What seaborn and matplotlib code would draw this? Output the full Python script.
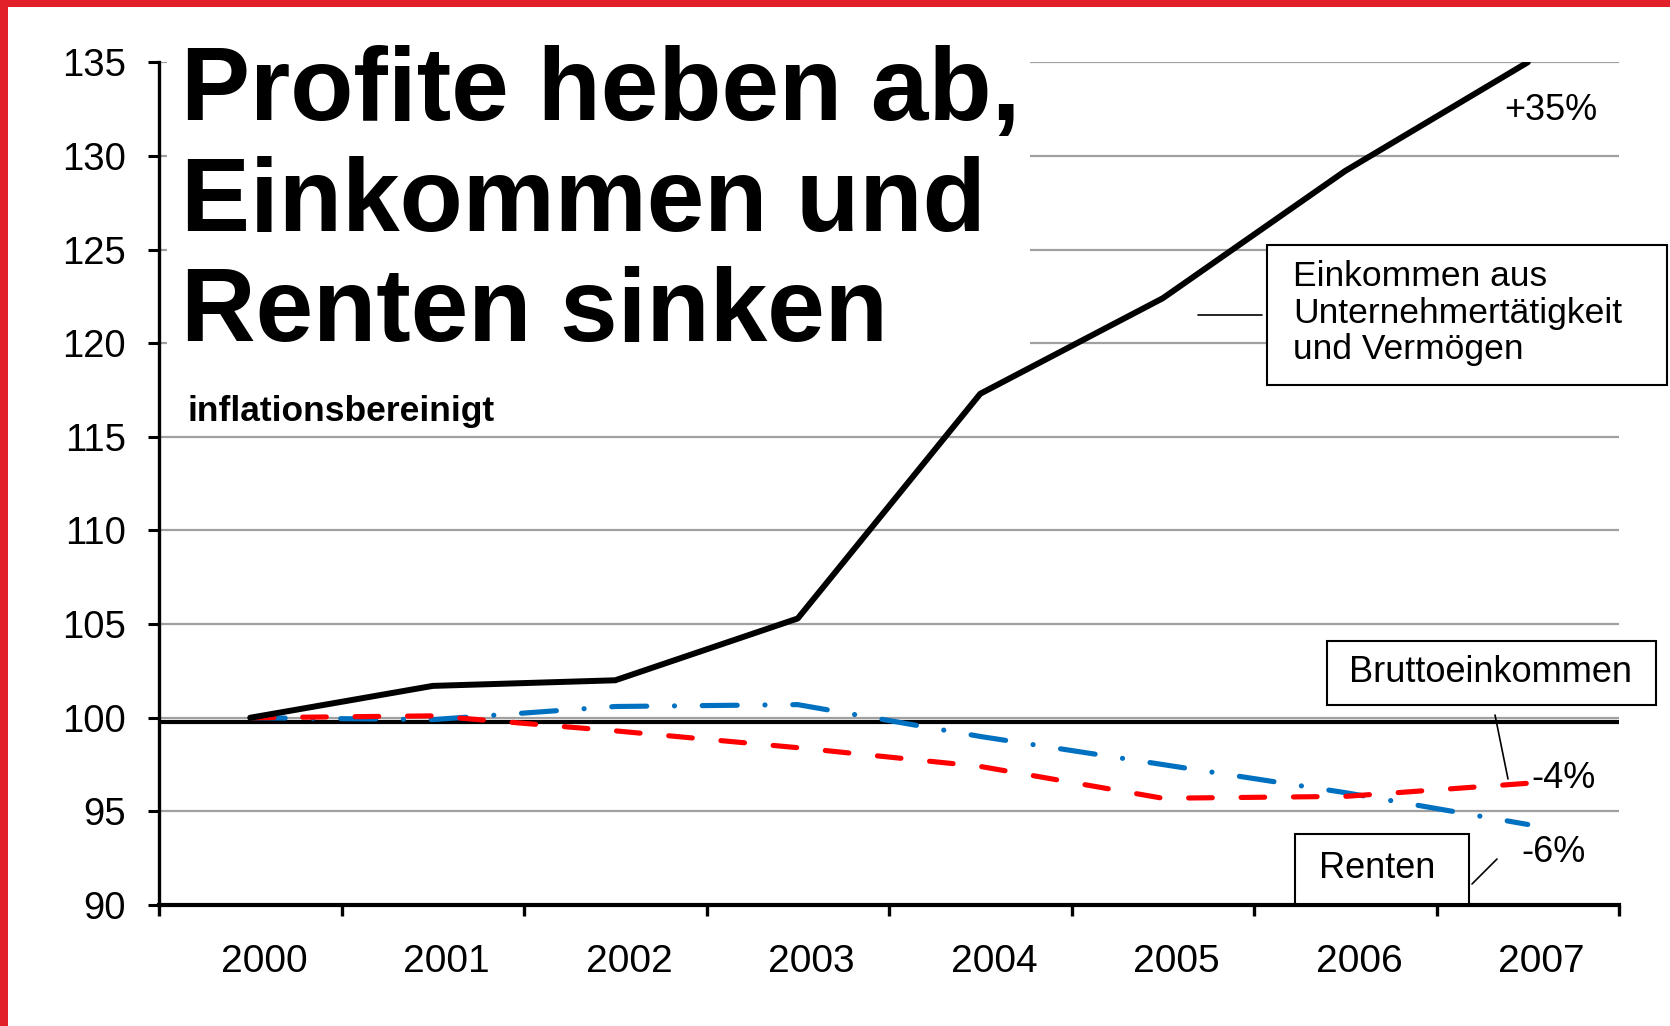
import numpy as np
import pandas as pd
import matplotlib
matplotlib.use("Agg")
import matplotlib.pyplot as plt
import seaborn as sns
from matplotlib.patches import Rectangle
from matplotlib.lines import Line2D
from matplotlib.transforms import ScaledTranslation

# ---- data ----
years = ["2000", "2001", "2002", "2003", "2004", "2005", "2006", "2007"]
profite = [100.0, 101.7, 102.0, 105.3, 117.3, 122.4, 129.2, 135.0]
brutto = [100.0, 100.1, 99.3, 98.4, 97.4, 95.7, 95.8, 96.5]
renten = [100.0, 99.9, 100.6, 100.7, 99.0, 97.5, 96.0, 94.3]
y_ticks = [90, 95, 100, 105, 110, 115, 120, 125, 130, 135]
baseline_value = 99.75

title_lines = ["Profite heben ab,", "Einkommen und", "Renten sinken"]
subtitle = "inflationsbereinigt"
label_profit = ["Einkommen aus", "Unternehmertätigkeit", "und Vermögen"]
label_brutto = "Bruttoeinkommen"
label_renten = "Renten"
pct_profit, pct_brutto, pct_renten = "+35%", "-4%", "-6%"

W, H = 1670, 1026
def fx(px):
    return px / W
def fy(py):
    return 1 - py / H

sns.set_theme(style="white")
plt.rcParams["font.family"] = ["Liberation Sans", "DejaVu Sans"]
plt.rcParams["text.color"] = "black"
plt.rcParams["xtick.color"] = "black"
plt.rcParams["ytick.color"] = "black"
plt.rcParams["xtick.labelcolor"] = "black"
plt.rcParams["ytick.labelcolor"] = "black"

fig = plt.figure(figsize=(W / 100, H / 100), dpi=100)
ax = fig.add_axes([fx(159), fy(905), fx(1619) - fx(159), fy(62.3) - fy(905)])

idx = np.arange(len(years))
blue = "#0070C0"
red = "#FF0000"

ax.yaxis.grid(True, color="#a0a0a0", lw=1.6)
ax.set_axisbelow(True)

ax.axhline(baseline_value, color="black", lw=3.0, zorder=1.8)

sns.lineplot(x=idx, y=renten, ax=ax, color=blue, lw=3.7,
             linestyle=(0, (6.8, 5.4, 0.01, 5.4)), dash_capstyle="round",
             zorder=2.2)
sns.lineplot(x=idx, y=brutto, ax=ax, color=red, lw=3.7,
             linestyle=(0, (4.6, 5.6)), dash_capstyle="round", zorder=2.4)
sns.lineplot(x=idx, y=profite, ax=ax, color="black", lw=4.3, zorder=2.6)

ax.set_xlim(-0.5, len(years) - 0.5)
ax.set_ylim(90, 135)
ax.set_yticks(y_ticks)
ax.set_yticklabels([str(v) for v in y_ticks])
ax.set_xticks(idx)
ax.set_xticklabels(years)
ax.set_xticks(np.arange(-0.5, len(years), 1), minor=True)
ax.tick_params(axis="x", which="major", length=0, pad=28, labelsize=28,
               labelcolor="black")
ax.tick_params(axis="x", which="minor", length=8, width=2.4, direction="out",
               color="black", bottom=True)
ax.tick_params(axis="y", length=8, width=2.2, direction="out", color="black",
               left=True, pad=16, labelsize=27.5, labelcolor="black")
for lab in ax.get_xticklabels():
    lab.set_transform(lab.get_transform() + ScaledTranslation(0.14, 0, fig.dpi_scale_trans))
ax.set_xlabel("")
ax.set_ylabel("")

for s in ["top", "right"]:
    ax.spines[s].set_visible(False)
ax.spines["left"].set_color("black")
ax.spines["left"].set_linewidth(2.4)
ax.spines["bottom"].set_color("black")
ax.spines["bottom"].set_linewidth(3.0)
if ax.get_legend():
    ax.get_legend().remove()

# white block behind the title (covers grid, not the data lines)
ax.add_patch(Rectangle((fx(167), fy(400)), fx(1030) - fx(167), fy(40) - fy(400),
                       transform=fig.transFigure, facecolor="white",
                       edgecolor="none", zorder=1.5, clip_on=False))

# title
for line, base in zip(title_lines, [120, 231, 341]):
    fig.text(fx(181), fy(base), line, fontsize=74.5, fontweight="bold",
             va="baseline", ha="left", color="black", zorder=5)
fig.text(fx(188), fy(421), subtitle, fontsize=25.5, fontweight="bold",
         va="baseline", ha="left", color="black", zorder=5)

# label boxes
def box(x0, y0, x1, y1):
    fig.add_artist(Rectangle((fx(x0), fy(y1)), fx(x1) - fx(x0), fy(y0) - fy(y1),
                             transform=fig.transFigure, facecolor="white",
                             edgecolor="black", lw=1.5, zorder=3))

def leader(xa, ya, xb, yb):
    fig.add_artist(Line2D([fx(xa), fx(xb)], [fy(ya), fy(yb)],
                          transform=fig.transFigure, color="black", lw=1.2,
                          zorder=3))

box(1267, 245, 1667, 385)
for line, yc in zip(label_profit, [276, 313, 349]):
    fig.text(fx(1293), fy(yc), line, fontsize=25.5, va="center", ha="left", zorder=4)
leader(1198, 315, 1262, 315)

box(1327, 641, 1656, 705)
fig.text(fx(1491), fy(673), label_brutto, fontsize=26, va="center", ha="center", zorder=4)
leader(1495, 715, 1508, 779)

box(1295, 834, 1469, 904)
fig.text(fx(1377), fy(868), label_renten, fontsize=26, va="center", ha="center", zorder=4)
leader(1472, 884, 1497, 859)

fig.text(fx(1504), fy(111), pct_profit, fontsize=26, va="center", ha="left", zorder=4)
fig.text(fx(1531), fy(778), pct_brutto, fontsize=26, va="center", ha="left", zorder=4)
fig.text(fx(1521), fy(853), pct_renten, fontsize=26, va="center", ha="left", zorder=4)

# red frame (top and left)
border = "#e2202a"
fig.add_artist(Rectangle((0, fy(7)), 1, fy(0) - fy(7), transform=fig.transFigure,
                         facecolor=border, edgecolor="none", zorder=10))
fig.add_artist(Rectangle((0, 0), fx(8), 1, transform=fig.transFigure,
                         facecolor=border, edgecolor="none", zorder=10))

fig.savefig("out.png", dpi=100, facecolor="white")
